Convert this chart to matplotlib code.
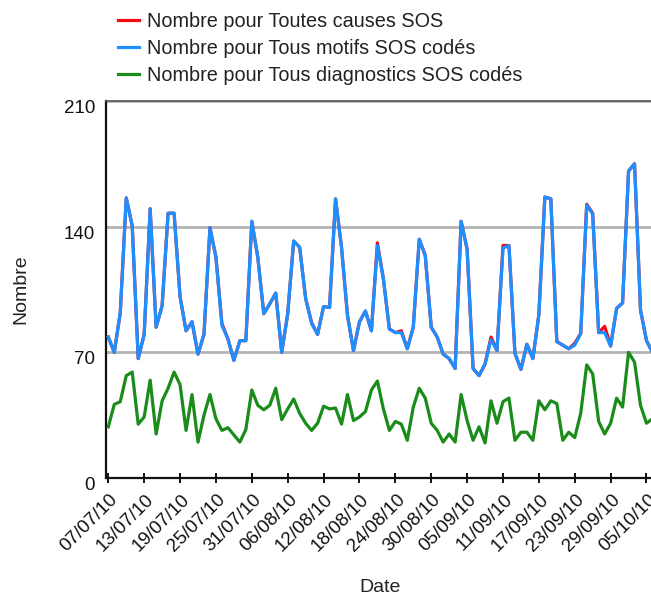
import matplotlib
matplotlib.use("Agg")
import matplotlib.pyplot as plt
import matplotlib.dates as mdates
import matplotlib.transforms as mtransforms
import pandas as pd

plt.rcParams['font.family'] = ['Liberation Sans', 'DejaVu Sans']

dates = pd.date_range("2010-07-07", periods=92, freq="D")

tous_motifs = [
    78.5, 70, 92, 156, 140.5, 66.5, 80, 150, 84, 96,
    147.5, 147.5, 101, 82, 87, 69, 80, 139.5, 123, 85,
    77.5, 65.5, 76.5, 76.5, 143, 123, 91.5, 97, 103, 70,
    91.5, 132, 128.5, 100, 86, 80, 95.5, 95, 155.5, 128.5,
    90.5, 71, 87, 93, 82, 129.5, 111, 83, 81, 81,
    72, 84, 133, 124, 84, 78.5, 69, 66.5, 61, 143,
    127.5, 61, 57, 63.5, 77, 71, 128, 129.5, 69.5, 60.5,
    74.5, 66.5, 91, 156.5, 155.5, 76, 74, 72, 74, 80.5,
    152, 147, 81, 81, 73.5, 94.5, 97.5, 171, 175, 93.5,
    76.5, 70,
]

toutes_causes = [
    78.5, 70, 92, 156, 140.5, 66.5, 80, 150, 84, 96,
    147.5, 147.5, 101, 82, 87, 69, 80, 139.5, 123, 86,
    77.5, 65.5, 76.5, 76.5, 143, 123, 91.5, 97, 103, 70,
    91.5, 132, 128.5, 100, 86.5, 80, 95.5, 95, 155.5, 128.5,
    90.5, 71, 87, 93, 82, 131, 111, 83, 81, 82,
    72, 84, 133, 124, 84, 78.5, 69, 66.5, 61, 143,
    127.5, 61, 57, 63.5, 78.5, 71, 129.5, 129.5, 69.5, 60.5,
    74.5, 66.5, 91, 156.5, 155.5, 76, 74, 72, 75, 80.5,
    152.5, 147.5, 81, 84.5, 73.5, 94.5, 97.5, 171, 175, 93.5,
    76.5, 70,
]

tous_diagnostics = [
    28.5, 41, 42.5, 57, 59, 30, 34, 54.5, 24.5, 43,
    50, 59, 52, 26.5, 46.5, 20, 35, 46.5, 33, 26.5,
    28, 24, 20, 27, 49, 40.5, 38, 40.5, 50, 32.5,
    38.5, 44, 36, 30.5, 26.5, 30.5, 40, 38.5, 39, 30,
    46.5, 32, 34, 37, 49, 54, 38.5, 26.5, 31.5, 30,
    21, 39.5, 50, 44.5, 30.5, 26.5, 20, 24.5, 20, 46.5,
    32, 21, 28.5, 19.5, 43, 30.5, 42.5, 44.5, 21, 25.5,
    25.5, 21, 43, 38, 43, 41.5, 21, 25.5, 22.5, 36,
    63, 58, 31.5, 24.5, 30.5, 44.5, 39.5, 70, 64.5, 40.5,
    30.5, 33,
]

labels = [
    "Nombre pour Toutes causes SOS",
    "Nombre pour Tous motifs SOS codés",
    "Nombre pour Tous diagnostics SOS codés",
]
colors = ["#f00a14", "#1e8fff", "#1a8c1a"]
y_ticks = [0, 70, 140, 210]

W, H = 651, 598
fig = plt.figure(figsize=(W / 100, H / 100), dpi=100)
left_px, right_px, top_px, bot_px = 106, 654, 101, 478
ax = fig.add_axes([left_px / W, 1 - bot_px / H, (right_px - left_px) / W, (bot_px - top_px) / H])

lw = 2.3
l1, = ax.plot(dates, toutes_causes, color=colors[0], lw=lw, label=labels[0], zorder=3)
l2, = ax.plot(dates, tous_motifs, color=colors[1], lw=lw, label=labels[1], zorder=4)
l3, = ax.plot(dates, tous_diagnostics, color=colors[2], lw=lw, label=labels[2], zorder=4)

px_per_day = 5.98
x0 = mdates.date2num(dates[0])
ax.set_xlim(x0 + (left_px - 108.3) / px_per_day, x0 + (right_px - 108.3) / px_per_day)
ax.set_ylim(0, 210)
ax.set_yticks(y_ticks)
ax.yaxis.grid(True, color="#b4b4b4", lw=2.0, zorder=1)
ax.set_axisbelow(True)

tick_dates = pd.date_range("2010-07-07", "2010-10-05", freq="6D")
ax.set_xticks(mdates.date2num(tick_dates))
ax.xaxis.set_major_formatter(mdates.DateFormatter("%d/%m/%y"))

for s in ["left", "bottom"]:
    ax.spines[s].set_color("#111111")
    ax.spines[s].set_linewidth(1.6)
ax.spines["top"].set_color("#555555")
ax.spines["top"].set_linewidth(1.2)
ax.spines["right"].set_visible(False)

ax.tick_params(axis="x", direction="inout", length=6.5, width=1.4, color="#111111",
               labelsize=13.5, labelcolor="#111111", pad=9.2)
ax.tick_params(axis="y", length=0, pad=8, labelsize=13.5, labelcolor="#111111")

dx = mtransforms.ScaledTranslation(5.6 / 100, 0, fig.dpi_scale_trans)
for lab in ax.get_xticklabels():
    lab.set_rotation(45)
    lab.set_ha("right")
    lab.set_va("center_baseline")
    lab.set_rotation_mode("anchor")
    lab.set_transform(lab.get_transform() + dx)

dy = mtransforms.ScaledTranslation(0, -5.5 / 100, fig.dpi_scale_trans)
for lab in ax.get_yticklabels():
    lab.set_transform(lab.get_transform() + dy)

ax.set_xlabel("Date", fontsize=14, color="#222222")
ax.xaxis.set_label_coords(0.5, -0.268)
ax.set_ylabel("Nombre", fontsize=14, color="#222222")
ax.yaxis.set_label_coords(-0.139, 0.5)

fig.legend(handles=[l1, l2, l3], loc="upper left",
           bbox_to_anchor=(118 / W, 1 - 12 / H), frameon=False,
           fontsize=14.3, handlelength=1.05, handletextpad=0.4,
           labelspacing=0.41, borderpad=0, borderaxespad=0,
           labelcolor="#222222")

fig.savefig("out.png", dpi=100)
